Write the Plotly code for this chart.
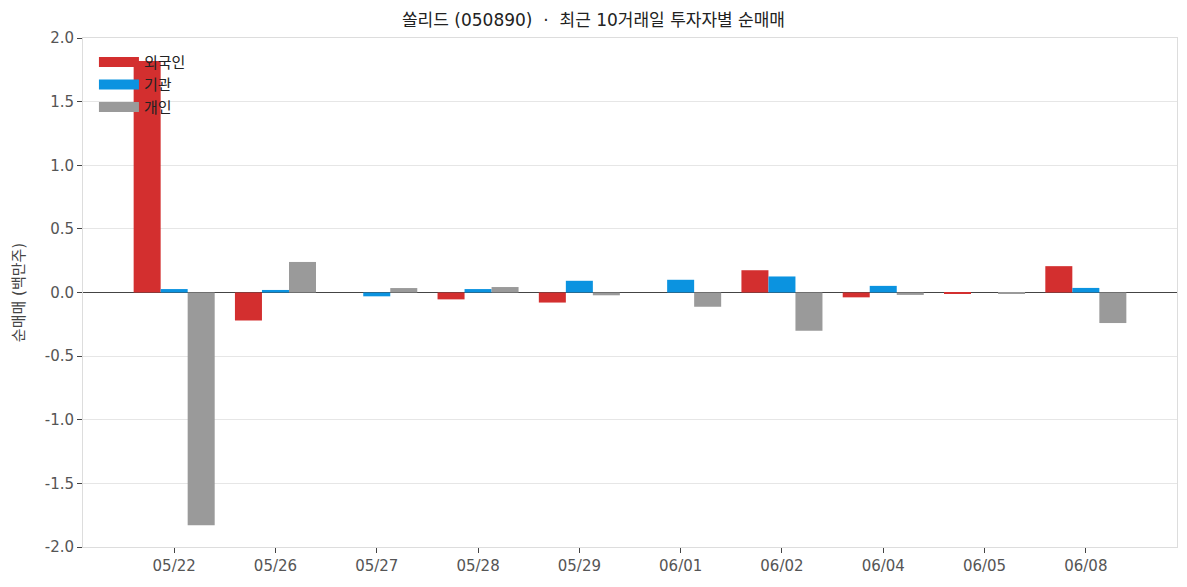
import plotly.graph_objects as go

dates = ["05/22", "05/26", "05/27", "05/28", "05/29", "06/01", "06/02", "06/04", "06/05", "06/08"]
foreign = [1.82, -0.22, 0.0, -0.054, -0.079, 0.0, 0.175, -0.038, -0.011, 0.207]
inst = [0.027, 0.02, -0.03, 0.027, 0.092, 0.10, 0.126, 0.052, 0.0, 0.036]
retail = [-1.83, 0.24, 0.035, 0.043, -0.022, -0.112, -0.30, -0.019, -0.004, -0.24]
y_ticks = [-2.0, -1.5, -1.0, -0.5, 0.0, 0.5, 1.0, 1.5, 2.0]
y_tick_text = ["-2.0", "-1.5", "-1.0", "-0.5", "0.0", "0.5", "1.0", "1.5", "2.0"]

series = [("외국인", foreign, "#d32f2f"), ("기관", inst, "#0b93e0"), ("개인", retail, "#9a9a9a")]

font = "DejaVu Sans, Noto Sans CJK KR"
fig = go.Figure()
for name, vals, col in series:
    fig.add_trace(go.Bar(x=dates, y=vals, name=name, showlegend=False,
                         marker=dict(color=col, line=dict(width=0))))
# legend swatches (wide rectangles)
for name, vals, col in series:
    fig.add_trace(go.Scatter(x=[None], y=[None], mode="lines", name=name,
                             line=dict(color=col, width=10)))

fig.update_layout(
    width=1187, height=587,
    barmode="group", bargap=0.2, bargroupgap=0,
    paper_bgcolor="white", plot_bgcolor="white",
    font=dict(family=font, size=15, color="#555"),
    title=dict(text="쏠리드 (050890)\u00a0 · \u00a0최근 10거래일 투자자별 순매매", x=0.5, xanchor="center",
               y=0.965, yanchor="middle", font=dict(size=17, color="#222", family=font)),
    margin=dict(l=83, r=10, t=38, b=40),
    legend=dict(x=0.01, y=0.985, xanchor="left", yanchor="top", bgcolor="rgba(0,0,0,0)",
                font=dict(size=15, color="#222", family="Noto Sans CJK KR"), tracegroupgap=0,
                itemwidth=40),
    showlegend=True,
)
fig.update_xaxes(type="category", range=[-0.9, 9.9], showline=True, linecolor="#dddddd", mirror=True,
                 ticks="outside", ticklen=5, tickcolor="#444", showgrid=False,
                 tickfont=dict(size=15, color="#555"))
fig.update_yaxes(range=[-2.0, 2.0], tickvals=y_ticks, ticktext=y_tick_text, showline=True,
                 linecolor="#dddddd", mirror=True, ticks="outside", ticklen=5, tickcolor="#444",
                 showgrid=True, gridcolor="#e6e6e6", zeroline=True, zerolinecolor="#444",
                 zerolinewidth=1,
                 title=dict(text="순매매 (백만주)", font=dict(size=15, color="#444"), standoff=16),
                 tickfont=dict(size=15, color="#555"))

fig.write_html("out.html")
